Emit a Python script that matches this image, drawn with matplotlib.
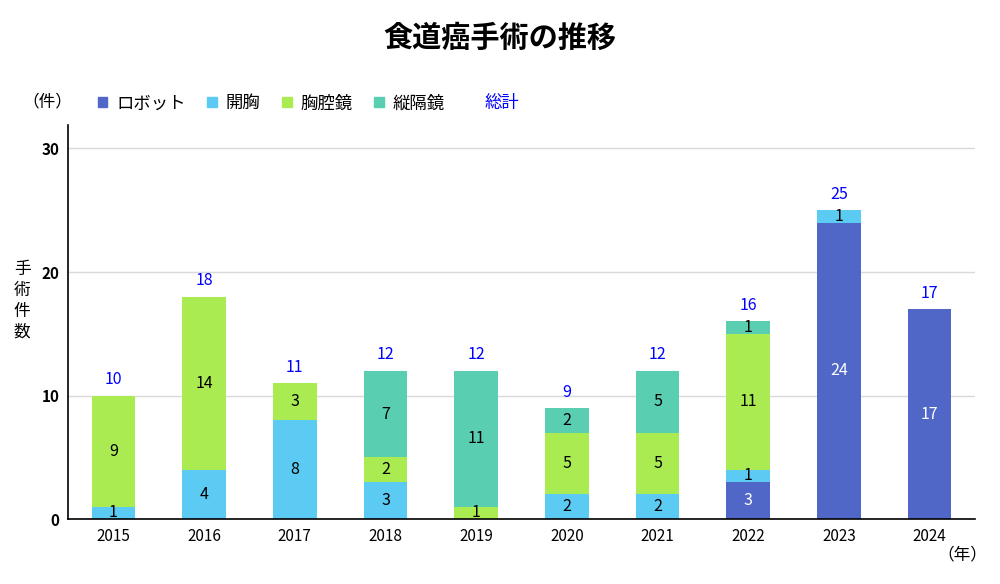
import matplotlib
matplotlib.use("Agg")
import matplotlib.pyplot as plt
from matplotlib.patches import Patch
from matplotlib.lines import Line2D
import numpy as np

plt.rcParams['font.family'] = ['Noto Sans CJK JP', 'DejaVu Sans']

# data
years = ['2015', '2016', '2017', '2018', '2019', '2020', '2021', '2022', '2023', '2024']
robot = [0, 0, 0, 0, 0, 0, 0, 3, 24, 17]
kaikyo = [1, 4, 8, 3, 0, 2, 2, 1, 1, 0]
kyokukyo = [9, 14, 3, 2, 1, 5, 5, 11, 0, 0]
jukakukyo = [0, 0, 0, 7, 11, 2, 5, 1, 0, 0]

series_names = ['ロボット', '開胸', '胸腔鏡', '縦隔鏡']
series_colors = ['#5067C8', '#5BCBF4', '#AAEB52', '#5ACEB0']
label_colors = ['white', 'black', 'black', 'black']

fig = plt.figure(figsize=(10, 5.84), dpi=100)
ax = fig.add_axes([0.068, 0.111, 0.907, 0.675])

x = np.arange(len(years))
bottom = np.zeros(len(years))
for vals, name, col, lc in zip([robot, kaikyo, kyokukyo, jukakukyo], series_names, series_colors, label_colors):
    vals = np.array(vals)
    ax.bar(x, vals, 0.48, bottom=bottom, color=col, label=name)
    for i in range(len(x)):
        if vals[i] > 0:
            ax.text(x[i], bottom[i] + vals[i] / 2, str(vals[i]), ha='center', va='center',
                    fontsize=11.5, color=lc)
    bottom += vals

# totals above bars
for i in range(len(x)):
    ax.text(x[i], bottom[i] + 0.6, str(int(bottom[i])), ha='center', va='bottom',
            fontsize=11.5, color='#0000FF')

ax.set_ylim(0, 31.9)
ax.set_xlim(-0.5, len(years) - 0.5)
ax.set_yticks([0, 10, 20, 30])
ax.set_yticklabels(['0', '10', '20', '30'], fontweight='bold', fontsize=11)
ax.set_xticks(x)
ax.set_xticklabels(years, fontsize=11)
ax.tick_params(length=0, pad=6)
ax.yaxis.grid(True, color='#d9d9d9', linewidth=1)
ax.set_axisbelow(True)
for s in ['top', 'right']:
    ax.spines[s].set_visible(False)
ax.spines['left'].set_linewidth(1.2)
ax.spines['bottom'].set_linewidth(1.2)

fig.text(0.5, 0.935, '食道癌手術の推移', ha='center', va='center', fontsize=21, fontweight='bold')
fig.text(0.047, 0.825, '（件）', ha='center', va='center', fontsize=12)
fig.text(0.022, 0.485, '手\n術\n件\n数', ha='center', va='center', fontsize=12, linespacing=1.3)
fig.text(0.962, 0.05, '（年）', ha='center', va='center', fontsize=12)

handles = [Patch(color=c) for c in series_colors] + [Line2D([], [], color='none')]
leg = fig.legend(handles, series_names + ['総計'], loc='center left', bbox_to_anchor=(0.084, 0.823),
                 ncol=5, frameon=False, fontsize=12.5, handlelength=0.55, handleheight=0.55,
                 handletextpad=0.5, columnspacing=1.25, borderpad=0.3)
leg.get_texts()[-1].set_color('#0000FF')
leg.legend_handles[-1].set_visible(False)

fig.savefig('out.png', dpi=100)
